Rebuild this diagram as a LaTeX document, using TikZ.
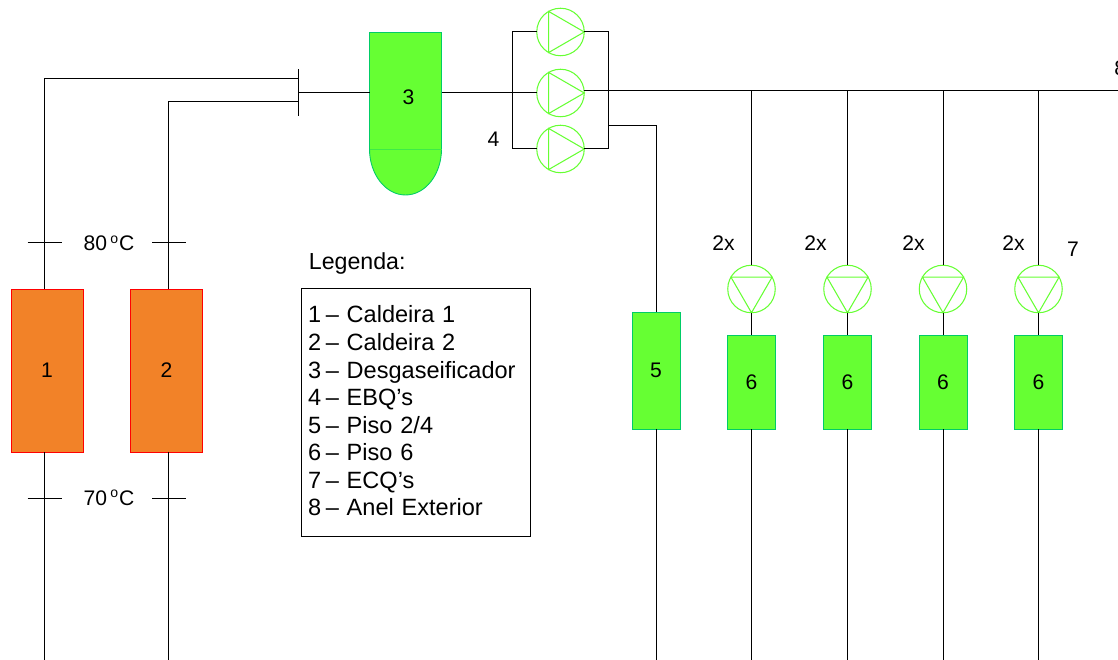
\documentclass[tikz,border=0pt]{standalone}
\usepackage{fontspec}
\setmainfont{Liberation Sans}
\definecolor{greenfill}{RGB}{102,255,51}
\definecolor{greenedge}{RGB}{0,204,102}
\definecolor{orangefill}{RGB}{242,130,40}
\newcommand{\dashgap}{\hspace{0.2em}–~}
\tikzset{
	wire/.style={draw=black, line width=0.57pt},
	boiler/.style={shape=rectangle, draw=red, fill=orangefill, line width=0.5pt, inner sep=0, outer sep=0, minimum width=1.44cm, minimum height=3.26cm, font=\fontsize{12}{14}\selectfont},
	floorbox/.style={shape=rectangle, draw=greenedge, fill=greenfill, line width=0.5pt, inner sep=0, outer sep=0, minimum width=0.96cm, font=\fontsize{12}{14}\selectfont},
	pump/.style={shape=circle, draw=greenfill, line width=0.6pt, inner sep=0, outer sep=0, minimum size=0.95cm},
	pumpline/.style={draw=greenfill, line width=0.6pt},
	tag/.style={inner sep=0, font=\fontsize{12}{14}\selectfont},
	legendbox/.style={shape=rectangle, draw=black, line width=0.57pt, inner sep=0, outer sep=0, minimum width=4.58cm, minimum height=4.96cm},
	legendtext/.style={inner sep=0, text width=4.3cm, align=left, font=\fontsize{13.4}{15.7}\selectfont},
}
\begin{document}
\begin{tikzpicture}
	\useasboundingbox (0, 0) rectangle (22.36, 13.2);
	% Free ends and junctions:
	\coordinate (Bot) at (0, 0);
	\coordinate (Main) at (22.36, 11.39);
	\coordinate (Riser1) at (0.89, 11.62);
	\coordinate (Riser2) at (3.37, 11.17);
	\coordinate (BarTop) at (5.96, 11.81);
	\coordinate (BarBot) at (5.96, 10.88);
	\coordinate (BarMid) at (5.96, 11.34);
	\coordinate (ManL) at (10.25, 11.34);
	\coordinate (ManR) at (12.17, 11.39);
	\coordinate (Out5) at (12.17, 10.69);
	\coordinate (TickA) at (0.55, 8.35);
	\coordinate (TickB) at (3.04, 8.35);
	\coordinate (TickC) at (0.55, 3.23);
	\coordinate (TickD) at (3.04, 3.23);
	% Boilers and tank:
	\node[boiler] (Rect1) at (0.94, 5.79) {1};
	\node[boiler] (Rect2) at (3.33, 5.79) {2};
	\draw[draw=greenedge, fill=greenfill, line width=0.5pt] (7.39, 10.22) arc[start angle=180, end angle=360, x radius=0.72, y radius=0.92] -- cycle;
	\node[floorbox, minimum width=1.44cm, minimum height=2.34cm] (Tank) at (8.11, 11.39) {};
	\draw[draw=greenedge!40!greenfill, line width=0.5pt] (Tank.south west) -- (Tank.south east);
	\node[tag] (Lab3) at (8.17, 11.26) {3};
	% Floors:
	\node[floorbox, minimum height=2.34cm] (Rect5) at (13.12, 5.79) {5};
	\node[floorbox, minimum height=1.88cm] (Rect6) at (15.03, 5.55) {6};
	\node[floorbox, minimum height=1.88cm] (Rect7) at (16.95, 5.55) {6};
	\node[floorbox, minimum height=1.88cm] (Rect8) at (18.86, 5.55) {6};
	\node[floorbox, minimum height=1.88cm] (Rect9) at (20.77, 5.55) {6};
	% Pumps:
	\node[pump] (N1) at (11.21, 12.56) {};
	\node[pump] (N2) at (11.21, 11.34) {};
	\node[pump] (N3) at (11.21, 10.22) {};
	\node[pump] (N4) at (15.03, 7.42) {};
	\node[pump] (N5) at (16.95, 7.42) {};
	\node[pump] (N6) at (18.86, 7.42) {};
	\node[pump] (N7) at (20.77, 7.42) {};
	\draw[pumpline] (N1.0) -- (N1.120) -- (N1.240) -- cycle;
	\draw[pumpline] (N2.0) -- (N2.120) -- (N2.240) -- cycle;
	\draw[pumpline] (N3.0) -- (N3.120) -- (N3.240) -- cycle;
	\draw[pumpline] (N4.270) -- (N4.30) -- (N4.150) -- cycle;
	\draw[pumpline] (N5.270) -- (N5.30) -- (N5.150) -- cycle;
	\draw[pumpline] (N6.270) -- (N6.30) -- (N6.150) -- cycle;
	\draw[pumpline] (N7.270) -- (N7.30) -- (N7.150) -- cycle;
	% Paths and wires:
	\draw[wire] (Riser1 |- Rect1.north) -- (Riser1) -- (Riser1 -| BarTop);
	\draw[wire] (Riser2 |- Rect2.north) -- (Riser2) -- (Riser2 -| BarTop);
	\draw[wire] (Riser1 |- Rect1.south) -- (Riser1 |- Bot);
	\draw[wire] (Riser2 |- Rect2.south) -- (Riser2 |- Bot);
	\draw[wire] (BarTop) -- (BarBot);
	\draw[wire] (BarMid) -- (BarMid -| Tank.west);
	\draw[wire] (ManL -| Tank.east) -- (N2.west);
	\draw[wire] (N1.west) -- (N1.west -| ManL) -- (N3.west -| ManL) -- (N3.west);
	\draw[wire] (N1.east) -- (N1.east -| ManR) -- (N3.east -| ManR) -- (N3.east);
	\draw[wire] (Main -| N2.east) -- (Main);
	\draw[wire] (Out5) -| (Rect5.north);
	\draw[wire] (Rect5.south) -- (Rect5.south |- Bot);
	\draw[wire] (Main -| N4.north) -- (N4.north);
	\draw[wire] (Main -| N5.north) -- (N5.north);
	\draw[wire] (Main -| N6.north) -- (N6.north);
	\draw[wire] (Main -| N7.north) -- (N7.north);
	\draw[wire] (N4.south) -- (Rect6.north);
	\draw[wire] (N5.south) -- (Rect7.north);
	\draw[wire] (N6.south) -- (Rect8.north);
	\draw[wire] (N7.south) -- (Rect9.north);
	\draw[wire] (Rect6.south) -- (Rect6.south |- Bot);
	\draw[wire] (Rect7.south) -- (Rect7.south |- Bot);
	\draw[wire] (Rect8.south) -- (Rect8.south |- Bot);
	\draw[wire] (Rect9.south) -- (Rect9.south |- Bot);
	\draw[wire] (TickA) -- ++(0.69, 0);
	\draw[wire] (TickB) -- ++(0.68, 0);
	\draw[wire] (TickC) -- ++(0.69, 0);
	\draw[wire] (TickD) -- ++(0.68, 0);
	% Labels:
	\node[tag] (Temp1) at (2.18, 8.33) {80\hspace{0.15em}\textsuperscript{o}C};
	\node[tag] (Temp2) at (2.18, 3.24) {70\hspace{0.15em}\textsuperscript{o}C};
	\node[tag] (Lab4) at (9.87, 10.42) {4};
	\node[tag] (Lab7) at (21.46, 8.22) {7};
	\node[tag, anchor=west] (Lab8) at (22.28, 11.84) {8};
	\node[tag] (Twice1) at (14.47, 8.33) {2x};
	\node[tag] (Twice2) at (16.31, 8.33) {2x};
	\node[tag] (Twice3) at (18.27, 8.33) {2x};
	\node[tag] (Twice4) at (20.27, 8.33) {2x};
	% Legend:
	\node[tag, anchor=west, font=\fontsize{13.2}{15.7}\selectfont] (Title) at (6.17, 7.92) {Legenda:};
	\node[legendbox] (Legend) at (8.31, 4.94) {};
	\node[legendtext] (Entries) at ([yshift=0.04cm]Legend.center) {1\dashgap Caldeira 1\\2\dashgap Caldeira 2\\3\dashgap Desgaseificador\\4\dashgap EBQ’s\\5\dashgap Piso 2/4\\6\dashgap Piso 6\\7\dashgap ECQ’s\\8\dashgap Anel Exterior};
\end{tikzpicture}
\end{document}
